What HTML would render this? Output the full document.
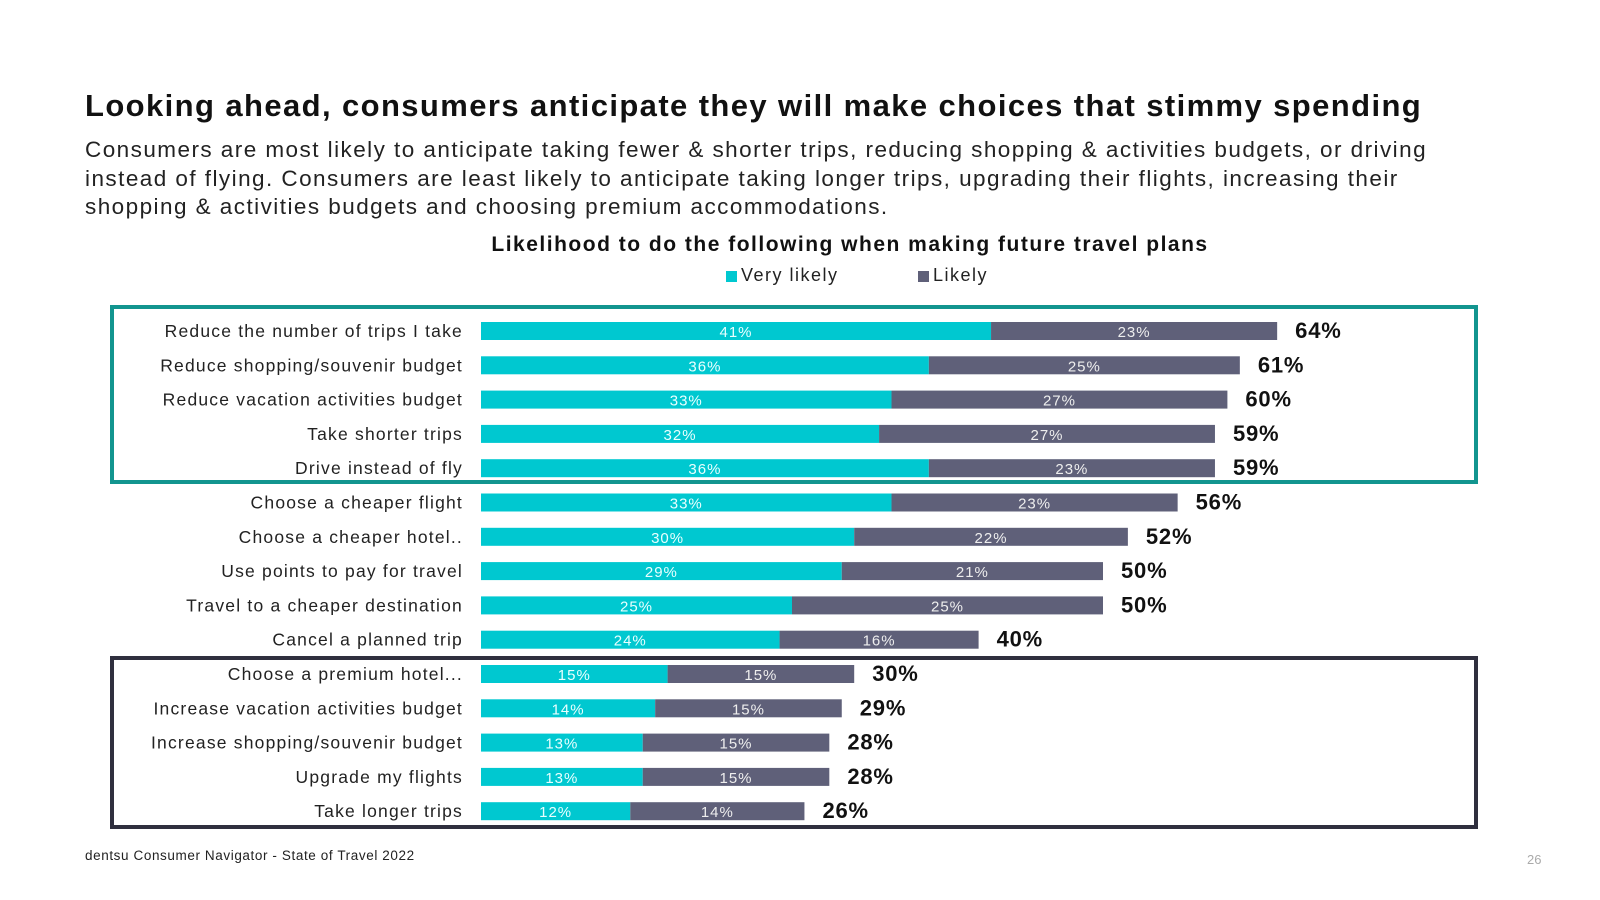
<!DOCTYPE html>
<html><head><meta charset="utf-8"><style>
body{margin:0;width:1600px;height:900px;background:#fff;font-family:"Liberation Sans",sans-serif;color:#111;position:relative;overflow:hidden}
.abs{position:absolute}
</style></head><body>
<div class="abs" style="left:85px;top:88px;font-size:31px;font-weight:bold;color:#111;letter-spacing:1.4px;white-space:nowrap">Looking ahead, consumers anticipate they will make choices that stimmy spending</div>
<div class="abs" style="left:85px;top:136px;font-size:22.5px;line-height:28.5px;color:#222;letter-spacing:1.45px;white-space:nowrap">Consumers are most likely to anticipate taking fewer &amp; shorter trips, reducing shopping &amp; activities budgets, or driving<br>instead of flying. Consumers are least likely to anticipate taking longer trips, upgrading their flights, increasing their<br>shopping &amp; activities budgets and choosing premium accommodations.</div>
<svg class="abs" style="left:0;top:0" width="1600" height="900" id="chart">
<text x="850" y="251" text-anchor="middle" font-size="21" font-weight="bold" fill="#111" letter-spacing="1.5">Likelihood to do the following when making future travel plans</text>
<rect x="726" y="271" width="11" height="11" fill="#00c8d0"/>
<text x="741" y="281" font-size="18" fill="#222" letter-spacing="1.5">Very likely</text>
<rect x="918" y="271" width="11" height="11" fill="#5f6079"/>
<text x="933" y="281" font-size="18" fill="#222" letter-spacing="1.5">Likely</text>
<rect x="112" y="307" width="1364" height="175" fill="none" stroke="#12958f" stroke-width="4"/>
<rect x="112" y="658" width="1364" height="169" fill="none" stroke="#2f2f3e" stroke-width="4"/>
<g id="bars"></g>
<text x="85" y="860" font-size="13.5" fill="#222" letter-spacing="0.6">dentsu Consumer Navigator - State of Travel 2022</text>
<text x="1527" y="864" font-size="13" fill="#aaa">26</text>
</svg>
<script>
const categories=["Reduce the number of trips I take","Reduce shopping/souvenir budget","Reduce vacation activities budget","Take shorter trips","Drive instead of fly","Choose a cheaper flight","Choose a cheaper hotel..","Use points to pay for travel","Travel to a cheaper destination","Cancel a planned trip","Choose a premium hotel...","Increase vacation activities budget","Increase shopping/souvenir budget","Upgrade my flights","Take longer trips"];
const veryLikely=[41,36,33,32,36,33,30,29,25,24,15,14,13,13,12];
const likely=[23,25,27,27,23,23,22,21,25,16,15,15,15,15,14];
const totals=[64,61,60,59,59,56,52,50,50,40,30,29,28,28,26];
const NS="http://www.w3.org/2000/svg";
const g=document.getElementById('bars');
const x0=481, pxPer=12.44, y0=331, step=34.3, bh=18;
const xs=v=>x0+v*pxPer;
function mk(tag,attrs){const e=document.createElementNS(NS,tag);for(const k in attrs)e.setAttribute(k,attrs[k]);g.appendChild(e);return e;}
categories.forEach((c,i)=>{
 const cy=y0+i*step;
 const t=mk('text',{x:463,y:cy+6,'text-anchor':'end','font-size':17.5,fill:'#222','letter-spacing':1.2});
 t.textContent=c;
 
 
 const a=mk('rect',{x:x0,y:cy-bh/2,width:xs(veryLikely[i])-x0,height:bh,fill:'#00c8d0'});
 
 
 const b=mk('rect',{x:xs(veryLikely[i]),y:cy-bh/2,width:likely[i]*pxPer,height:bh,fill:'#5f6079'});
 
 
 const la=mk('text',{x:(x0+xs(veryLikely[i]))/2,y:cy+6,'text-anchor':'middle','font-size':15,fill:'#e8ffff','letter-spacing':1});
 la.textContent=veryLikely[i]+'%';
 
 
 const lb=mk('text',{x:xs(veryLikely[i])+likely[i]*pxPer/2,y:cy+6,'text-anchor':'middle','font-size':15,fill:'#eee','letter-spacing':1});
 lb.textContent=likely[i]+'%';
 
 
 const tt=mk('text',{x:xs(veryLikely[i]+likely[i])+18,y:cy+7,'font-size':22,'font-weight':'bold',fill:'#111','letter-spacing':0.8});
 tt.textContent=totals[i]+'%';
 
 
});
</script>
</body></html>
